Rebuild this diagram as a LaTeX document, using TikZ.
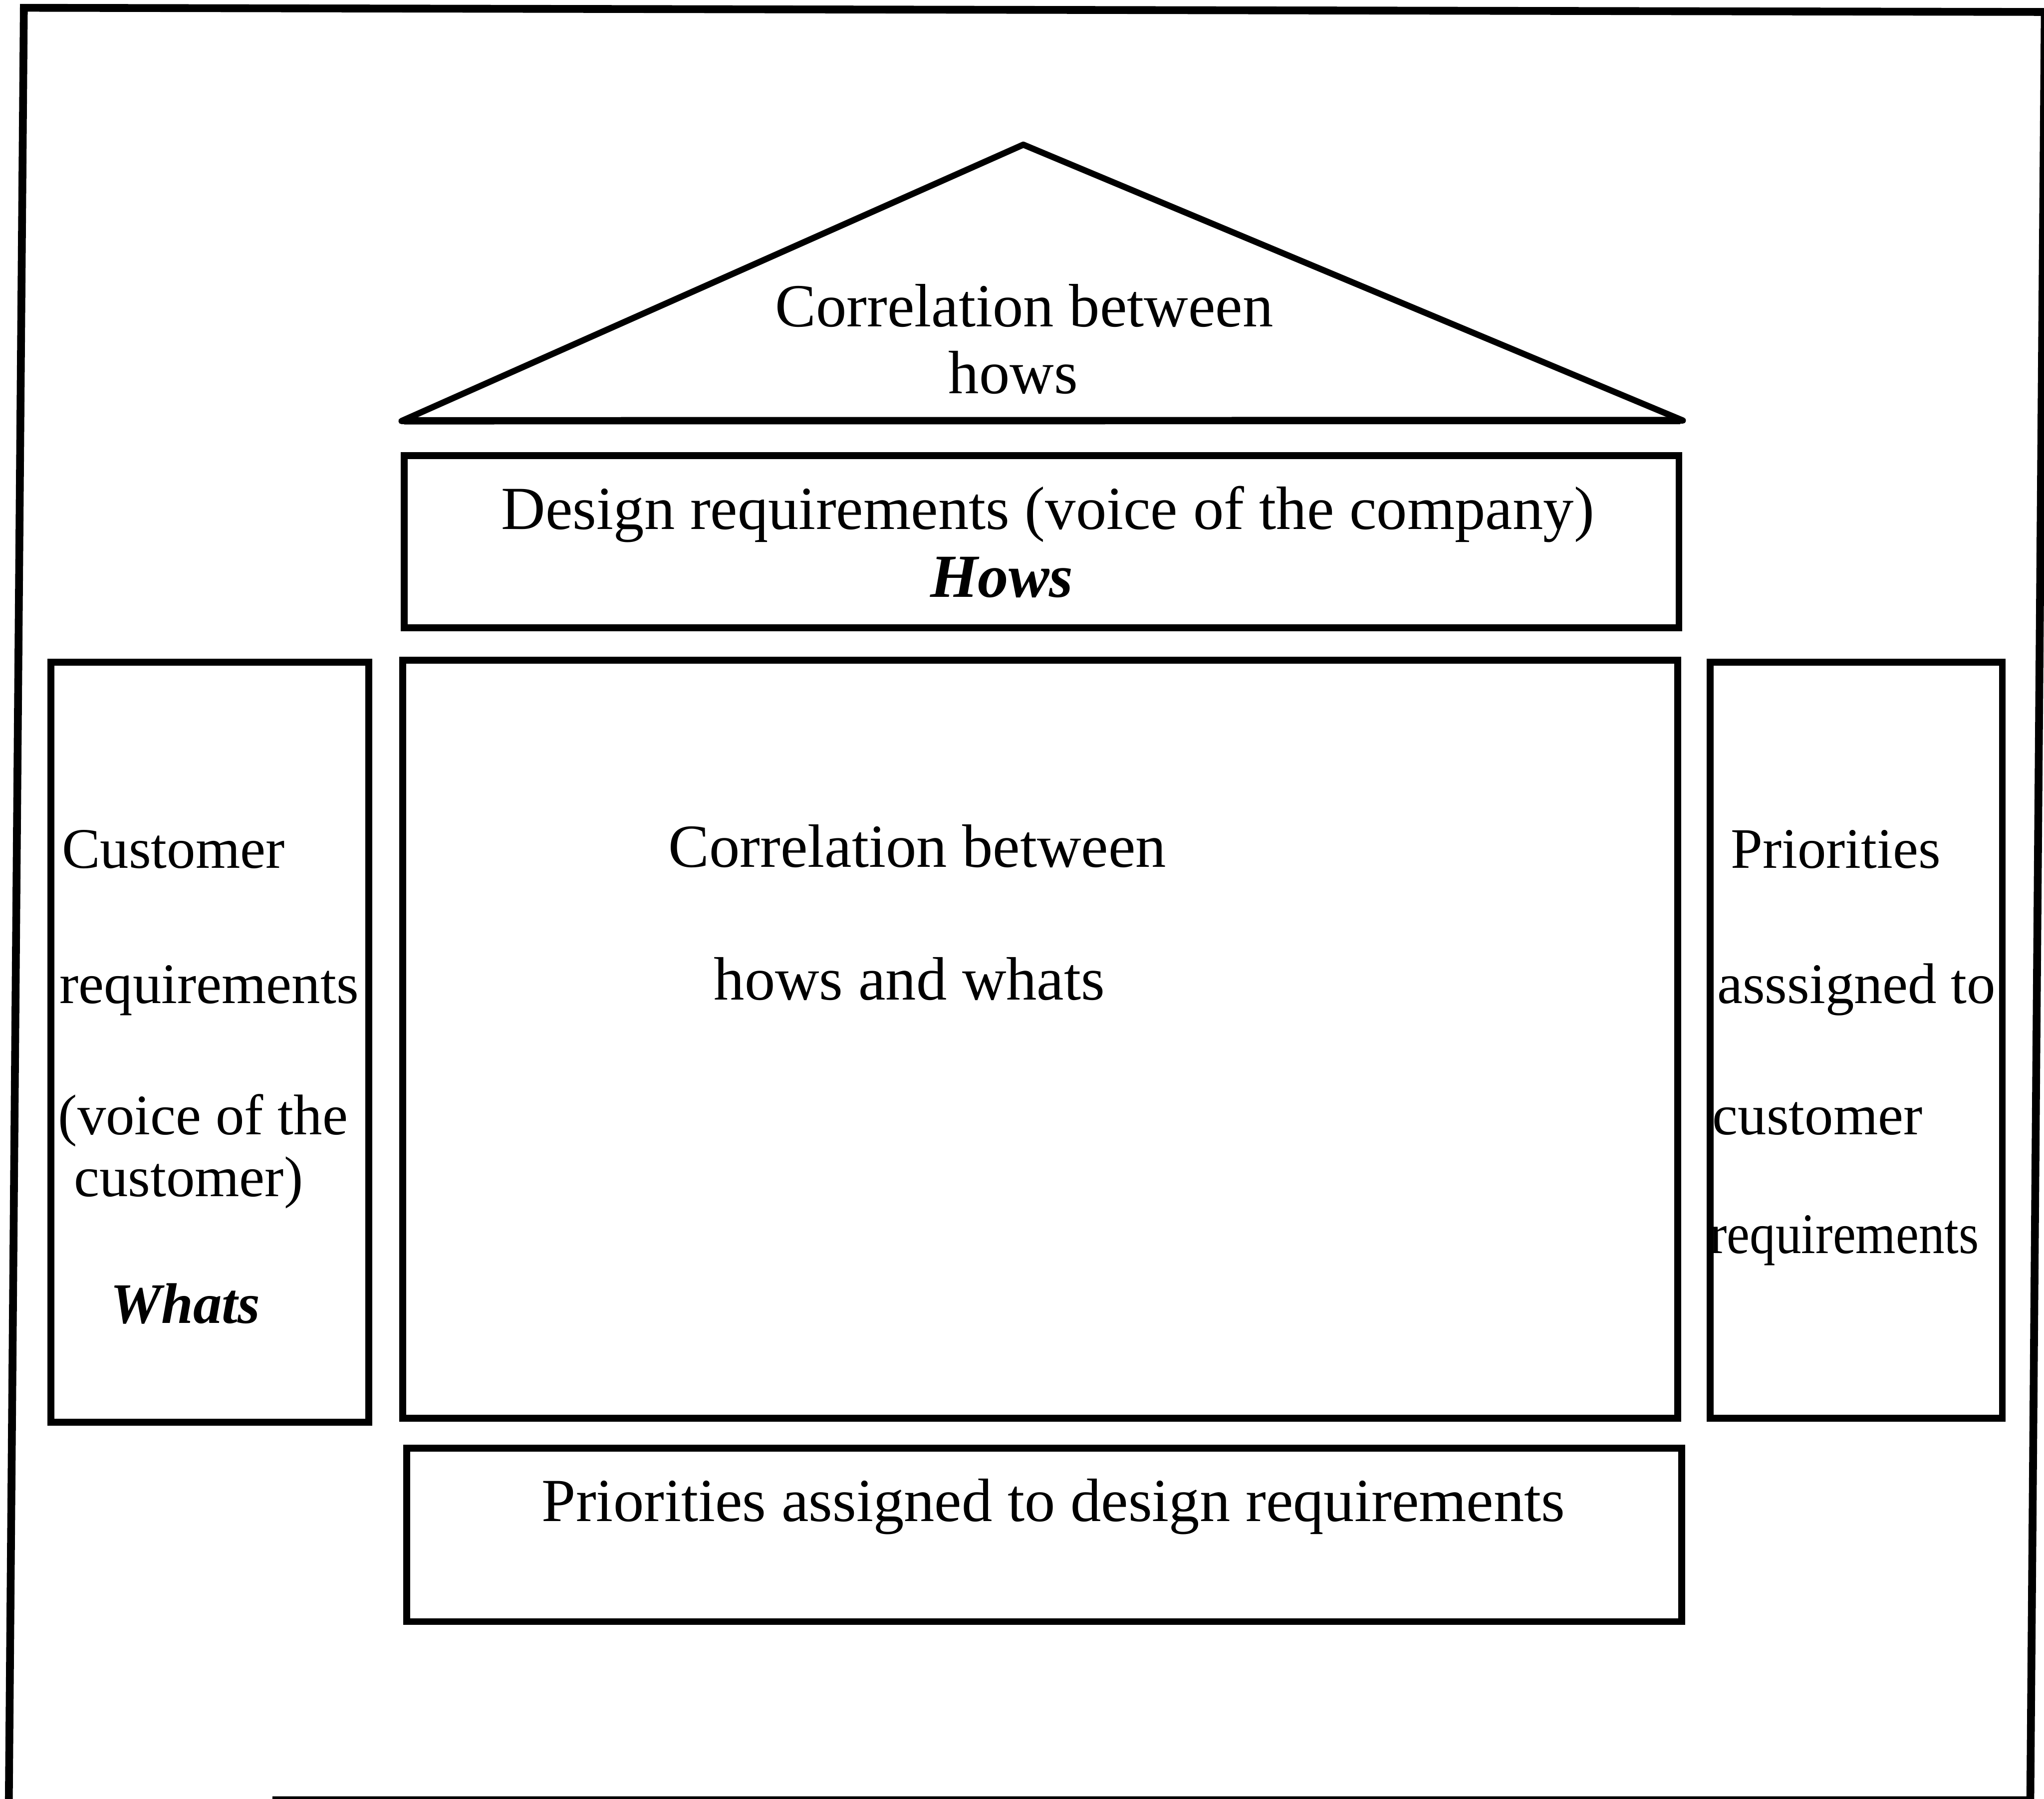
\documentclass[tikz,border=0pt]{standalone}
\usepackage{fontspec}
\setmainfont{Liberation Serif}
\begin{document}
\begin{tikzpicture}[x=0.01cm,y=-0.01cm,
  frameline/.style={line width=1.7pt,line join=miter},
  boxline/.style={line width=1.5pt,line join=miter},
  roofline/.style={line width=1.35pt,line join=round},
  bigtext/.style={anchor=base west,inner sep=0pt,font=\fontsize{13.35pt}{16pt}\selectfont},
  sidetext/.style={anchor=base west,inner sep=0pt,font=\fontsize{12.5pt}{15pt}\selectfont}]
\useasboundingbox (0,0) rectangle (1568,1380);

% outer frame (bottom edge runs only part of the way)
\draw[frameline] (209,1381) -- (1557.5,1381) -- (1568.6,9.2) -- (18.3,6) -- (6.7,1392);

% roof: correlation between hows
\draw[roofline] (785,111) -- (1291,322.6) -- (308,323) -- cycle;
\draw[line width=1.6pt] (310,322.8) -- (1289,322.6);
\node[bigtext] (roofA) at (594,250.6) {Correlation between};
\node[bigtext] (roofB) at (727,302) {hows};

% design requirements
\draw[boxline] (310,349.6) rectangle (1288,481.6);
\node[bigtext] (howsA) at (384,406) {Design requirements (voice of the company)};
\node[bigtext] (howsB) at (713,458) {\textbf{\textit{Hows}}};

% relationship matrix
\draw[boxline] (309,506.5) rectangle (1287,1088);
\node[bigtext] (relA) at (512,665) {Correlation between};
\node[bigtext] (relB) at (547,767) {hows and whats};

% customer requirements
\draw[boxline] (39,508) rectangle (283,1091);
\node[sidetext] (whatA) at (46.8,666) {Customer};
\node[sidetext] (whatB) at (45,769.5) {requirements};
\node[sidetext] (whatC) at (44,870.5) {(voice of the};
\node[sidetext] (whatD) at (56,918) {customer)};
\node[sidetext] (whatE) at (84,1015) {\textbf{\textit{Whats}}};

% customer priorities
\draw[boxline] (1312,508) rectangle (1536,1088);
\node[sidetext] (prioA) at (1327,666) {Priorities};
\node[sidetext] (prioB) at (1316.6,769.5) {asssigned to};
\node[sidetext] (prioC) at (1313,870.5) {customer};
\node[sidetext,xscale=0.9] (prioD) at (1311,961.5) {requirements};

% design priorities
\draw[boxline] (312,1111) rectangle (1290,1244);
\node[bigtext] (basA) at (415,1167) {Priorities assigned to design requirements};
\end{tikzpicture}
\end{document}
